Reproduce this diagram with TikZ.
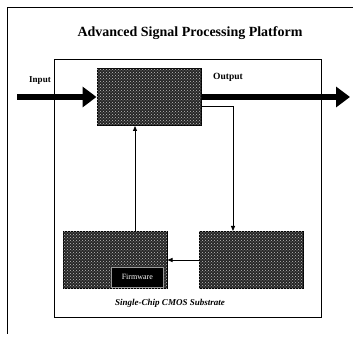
\documentclass[tikz,border=0pt]{standalone}
\usepackage{fontspec}
\setmainfont{Liberation Serif}
\usetikzlibrary{arrows.meta,patterns,positioning}
\tikzset{
	chipbox/.style = {draw = black, line width = 1pt, fill = black!85, minimum width = 104pt, minimum height = 57pt, inner sep = 0pt, postaction = {pattern = crosshatch dots, pattern color = white!75!black}},
	wire/.style = {line width = .8pt, -{Triangle[length = 5pt, width = 4pt]}},
	bigarrow/.style = {line width = 6pt, -{Triangle[length = 14pt, width = 20pt]}}
}
\begin{document}
\begin{tikzpicture}[x = 1pt, y = 1pt]
					\useasboundingbox (0,0) rectangle (353,344);
					\draw [line width = .6pt] (7,10)--(7,337)--(353,337);
					\node (title) at (190,311) {\fontsize{14}{16}\selectfont\bfseries Advanced Signal Processing Platform};
					\draw [line width = .8pt] (54,27) rectangle (321,285);
					\node [chipbox] (dsp) at (149,247) {};
					\node [chipbox] (memory) at (115,84) {};
					\node [chipbox] (control) at (251,84) {};
					\node [fill = black, draw = white!60!black, minimum width = 52pt, minimum height = 20pt, anchor = south east, text = white, inner sep = 0pt] (firmware) at ([xshift = -4pt, yshift = 2pt]memory.south east) {\fontsize{8}{9}\selectfont Firmware};
					\coordinate (in) at (17,247);
					\coordinate (out) at (350,247);
					\coordinate (bend) at (233,238);
					\draw [bigarrow] (in)--(dsp.west);
					\draw [bigarrow] (dsp.east)--(out);
					\draw (40,263) node (inputlabel) {\fontsize{9}{10}\selectfont\bfseries Input};
					\draw (228,267) node (outputlabel) {\fontsize{9.5}{10}\selectfont\bfseries Output};
					\draw [wire] (dsp.east |- bend)--(bend)--(bend |- control.north);
					\draw [wire] (control.west)--(memory.east);
					\draw [wire] (memory.north -| 135,0)--(dsp.south -| 135,0);
					\draw (170,41) node (substrate) {\fontsize{9}{10}\selectfont\bfseries\itshape Single-Chip CMOS Substrate};
				\end{tikzpicture}
\end{document}
